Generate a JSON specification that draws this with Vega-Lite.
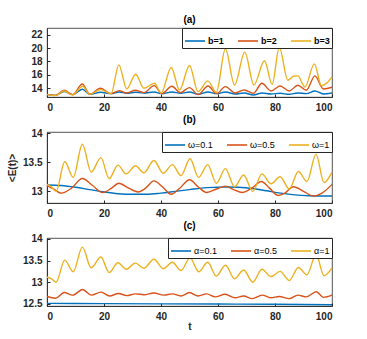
{
  "$schema": "https://vega.github.io/schema/vega-lite/v6.json",
  "padding": {"left": 7, "top": 14, "right": 5, "bottom": 5},
  "config": {
    "font": "Liberation Sans",
    "view": {"stroke": "#262626", "strokeWidth": 0.8},
    "axis": {"domainColor": "#262626", "domainWidth": 0.8, "tickColor": "#262626", "labelColor": "#262626", "labelFontSize": 10, "labelFontWeight": "bold", "grid": false, "tickSize": -3, "labelPadding": 8, "titleFontSize": 10, "titleFontWeight": "bold", "titleColor": "#262626", "format": "~r"},
    "title": {"fontSize": 10, "fontWeight": "bold", "offset": 3, "color": "#000000"},
    "legend": {"orient": "top-right", "direction": "horizontal", "symbolType": "stroke", "symbolSize": 400, "symbolStrokeWidth": 1.6, "labelFontSize": 9, "labelColor": "#000000", "strokeColor": "#262626", "fillColor": "white", "padding": 2, "offset": 0, "columnSpacing": 0, "labelOffset": 2},
    "concat": {"spacing": 1}
  },
  "data": {"values": [
    {"p":"a","s":"b=1","t":0,"v":13.1},{"p":"a","s":"b=1","t":3,"v":12.95},{"p":"a","s":"b=1","t":6,"v":13.5},{"p":"a","s":"b=1","t":9,"v":13.05},{"p":"a","s":"b=1","t":12.4,"v":13.85},{"p":"a","s":"b=1","t":15,"v":13.1},{"p":"a","s":"b=1","t":18.8,"v":13.4},{"p":"a","s":"b=1","t":22.5,"v":13.2},{"p":"a","s":"b=1","t":25.3,"v":13.45},{"p":"a","s":"b=1","t":28,"v":13.25},{"p":"a","s":"b=1","t":31,"v":13.4},{"p":"a","s":"b=1","t":34,"v":13.3},{"p":"a","s":"b=1","t":37.6,"v":13.45},{"p":"a","s":"b=1","t":40.3,"v":13.2},{"p":"a","s":"b=1","t":43.8,"v":13.45},{"p":"a","s":"b=1","t":47,"v":13.25},{"p":"a","s":"b=1","t":50,"v":13.45},{"p":"a","s":"b=1","t":53,"v":13.1},{"p":"a","s":"b=1","t":56.5,"v":13.45},{"p":"a","s":"b=1","t":59.5,"v":13.2},{"p":"a","s":"b=1","t":62.6,"v":13.45},{"p":"a","s":"b=1","t":66,"v":13.15},{"p":"a","s":"b=1","t":69.2,"v":13.3},{"p":"a","s":"b=1","t":72.4,"v":13.0},{"p":"a","s":"b=1","t":75.4,"v":13.3},{"p":"a","s":"b=1","t":78.6,"v":13.15},{"p":"a","s":"b=1","t":81.8,"v":13.25},{"p":"a","s":"b=1","t":85,"v":13.1},{"p":"a","s":"b=1","t":88,"v":13.3},{"p":"a","s":"b=1","t":91,"v":13.2},{"p":"a","s":"b=1","t":94,"v":13.6},{"p":"a","s":"b=1","t":97,"v":13.15},{"p":"a","s":"b=1","t":100,"v":13.3},

    {"p":"a","s":"b=2","t":0,"v":13.1},{"p":"a","s":"b=2","t":3,"v":12.95},{"p":"a","s":"b=2","t":6,"v":13.7},{"p":"a","s":"b=2","t":9,"v":13.05},{"p":"a","s":"b=2","t":12.4,"v":14.65},{"p":"a","s":"b=2","t":15,"v":13.1},{"p":"a","s":"b=2","t":18.8,"v":14.0},{"p":"a","s":"b=2","t":22.5,"v":13.2},{"p":"a","s":"b=2","t":25.3,"v":13.65},{"p":"a","s":"b=2","t":28,"v":13.3},{"p":"a","s":"b=2","t":31,"v":13.7},{"p":"a","s":"b=2","t":34,"v":13.35},{"p":"a","s":"b=2","t":37.6,"v":14.4},{"p":"a","s":"b=2","t":40.3,"v":13.2},{"p":"a","s":"b=2","t":43.8,"v":14.3},{"p":"a","s":"b=2","t":46.8,"v":13.35},{"p":"a","s":"b=2","t":50,"v":14.1},{"p":"a","s":"b=2","t":53,"v":13.05},{"p":"a","s":"b=2","t":56.5,"v":14.35},{"p":"a","s":"b=2","t":59.5,"v":13.2},{"p":"a","s":"b=2","t":62.6,"v":14.25},{"p":"a","s":"b=2","t":66,"v":13.3},{"p":"a","s":"b=2","t":69.2,"v":13.75},{"p":"a","s":"b=2","t":72.4,"v":13.25},{"p":"a","s":"b=2","t":75.4,"v":14.75},{"p":"a","s":"b=2","t":78.6,"v":13.6},{"p":"a","s":"b=2","t":81.8,"v":14.35},{"p":"a","s":"b=2","t":85,"v":13.6},{"p":"a","s":"b=2","t":88,"v":14.45},{"p":"a","s":"b=2","t":91,"v":13.7},{"p":"a","s":"b=2","t":94,"v":15.85},{"p":"a","s":"b=2","t":97,"v":13.9},{"p":"a","s":"b=2","t":100,"v":14.15},

    {"p":"a","s":"b=3","t":0,"v":13.05},{"p":"a","s":"b=3","t":3,"v":12.9},{"p":"a","s":"b=3","t":6,"v":13.6},{"p":"a","s":"b=3","t":9,"v":13.0},{"p":"a","s":"b=3","t":12.5,"v":14.3},{"p":"a","s":"b=3","t":15,"v":13.1},{"p":"a","s":"b=3","t":18.8,"v":13.8},{"p":"a","s":"b=3","t":22.5,"v":13.2},{"p":"a","s":"b=3","t":25.2,"v":17.5},{"p":"a","s":"b=3","t":28,"v":13.9},{"p":"a","s":"b=3","t":31.1,"v":16.1},{"p":"a","s":"b=3","t":34,"v":14.0},{"p":"a","s":"b=3","t":37.7,"v":14.75},{"p":"a","s":"b=3","t":40,"v":13.25},{"p":"a","s":"b=3","t":43.6,"v":17.1},{"p":"a","s":"b=3","t":46.5,"v":13.75},{"p":"a","s":"b=3","t":50,"v":17.4},{"p":"a","s":"b=3","t":53,"v":13.5},{"p":"a","s":"b=3","t":56.4,"v":15.1},{"p":"a","s":"b=3","t":59.4,"v":13.4},{"p":"a","s":"b=3","t":62.6,"v":19.9},{"p":"a","s":"b=3","t":65.8,"v":14.5},{"p":"a","s":"b=3","t":69.4,"v":19.4},{"p":"a","s":"b=3","t":72.6,"v":14.5},{"p":"a","s":"b=3","t":76.3,"v":18.1},{"p":"a","s":"b=3","t":79,"v":14.6},{"p":"a","s":"b=3","t":81.5,"v":20.15},{"p":"a","s":"b=3","t":84.5,"v":15.2},{"p":"a","s":"b=3","t":86.5,"v":15.8},{"p":"a","s":"b=3","t":88,"v":15.85},{"p":"a","s":"b=3","t":90.5,"v":14.2},{"p":"a","s":"b=3","t":93.8,"v":17.65},{"p":"a","s":"b=3","t":96.3,"v":14.4},{"p":"a","s":"b=3","t":98.5,"v":14.9},{"p":"a","s":"b=3","t":100,"v":15.7},

    {"p":"b","s":"ω=0.1","t":0,"v":13.11},{"p":"b","s":"ω=0.1","t":5,"v":13.1},{"p":"b","s":"ω=0.1","t":10,"v":13.07},{"p":"b","s":"ω=0.1","t":15,"v":13.03},{"p":"b","s":"ω=0.1","t":20,"v":12.99},{"p":"b","s":"ω=0.1","t":25,"v":12.96},{"p":"b","s":"ω=0.1","t":30,"v":12.95},{"p":"b","s":"ω=0.1","t":35,"v":12.95},{"p":"b","s":"ω=0.1","t":40,"v":12.97},{"p":"b","s":"ω=0.1","t":45,"v":13.0},{"p":"b","s":"ω=0.1","t":50,"v":13.03},{"p":"b","s":"ω=0.1","t":55,"v":13.06},{"p":"b","s":"ω=0.1","t":60,"v":13.07},{"p":"b","s":"ω=0.1","t":63,"v":13.075},{"p":"b","s":"ω=0.1","t":67,"v":13.07},{"p":"b","s":"ω=0.1","t":72,"v":13.05},{"p":"b","s":"ω=0.1","t":77,"v":13.01},{"p":"b","s":"ω=0.1","t":82,"v":12.97},{"p":"b","s":"ω=0.1","t":87,"v":12.94},{"p":"b","s":"ω=0.1","t":92,"v":12.925},{"p":"b","s":"ω=0.1","t":96,"v":12.92},{"p":"b","s":"ω=0.1","t":100,"v":12.92},

    {"p":"b","s":"ω=0.5","t":0,"v":13.1},{"p":"b","s":"ω=0.5","t":2,"v":13.05},{"p":"b","s":"ω=0.5","t":5,"v":12.97},{"p":"b","s":"ω=0.5","t":8.5,"v":13.05},{"p":"b","s":"ω=0.5","t":12.4,"v":13.22},{"p":"b","s":"ω=0.5","t":16,"v":13.1},{"p":"b","s":"ω=0.5","t":19.5,"v":12.98},{"p":"b","s":"ω=0.5","t":22.5,"v":13.05},{"p":"b","s":"ω=0.5","t":25.2,"v":13.14},{"p":"b","s":"ω=0.5","t":28.5,"v":13.06},{"p":"b","s":"ω=0.5","t":32,"v":12.99},{"p":"b","s":"ω=0.5","t":34.5,"v":13.05},{"p":"b","s":"ω=0.5","t":37.5,"v":13.18},{"p":"b","s":"ω=0.5","t":40.5,"v":13.08},{"p":"b","s":"ω=0.5","t":43.5,"v":12.95},{"p":"b","s":"ω=0.5","t":46.5,"v":13.05},{"p":"b","s":"ω=0.5","t":50,"v":13.2},{"p":"b","s":"ω=0.5","t":53,"v":13.08},{"p":"b","s":"ω=0.5","t":56,"v":12.98},{"p":"b","s":"ω=0.5","t":59.5,"v":13.04},{"p":"b","s":"ω=0.5","t":62.6,"v":13.09},{"p":"b","s":"ω=0.5","t":65.5,"v":13.03},{"p":"b","s":"ω=0.5","t":68.5,"v":12.98},{"p":"b","s":"ω=0.5","t":72,"v":13.06},{"p":"b","s":"ω=0.5","t":75.2,"v":13.17},{"p":"b","s":"ω=0.5","t":78,"v":13.06},{"p":"b","s":"ω=0.5","t":81,"v":12.93},{"p":"b","s":"ω=0.5","t":83.5,"v":12.97},{"p":"b","s":"ω=0.5","t":86.5,"v":13.08},{"p":"b","s":"ω=0.5","t":90,"v":13.0},{"p":"b","s":"ω=0.5","t":93.5,"v":12.92},{"p":"b","s":"ω=0.5","t":96.5,"v":12.97},{"p":"b","s":"ω=0.5","t":100,"v":13.12},

    {"p":"b","s":"ω=1","t":0,"v":13.12},{"p":"b","s":"ω=1","t":1.5,"v":13.08},{"p":"b","s":"ω=1","t":3.2,"v":13.0},{"p":"b","s":"ω=1","t":6.2,"v":13.51},{"p":"b","s":"ω=1","t":9.2,"v":13.24},{"p":"b","s":"ω=1","t":12.4,"v":13.81},{"p":"b","s":"ω=1","t":15.5,"v":13.33},{"p":"b","s":"ω=1","t":18.9,"v":13.58},{"p":"b","s":"ω=1","t":21.8,"v":13.22},{"p":"b","s":"ω=1","t":24.9,"v":13.45},{"p":"b","s":"ω=1","t":27.8,"v":13.3},{"p":"b","s":"ω=1","t":31,"v":13.44},{"p":"b","s":"ω=1","t":34,"v":13.32},{"p":"b","s":"ω=1","t":37.5,"v":13.53},{"p":"b","s":"ω=1","t":40.8,"v":13.31},{"p":"b","s":"ω=1","t":44,"v":13.46},{"p":"b","s":"ω=1","t":47,"v":13.27},{"p":"b","s":"ω=1","t":50.2,"v":13.56},{"p":"b","s":"ω=1","t":53.2,"v":13.24},{"p":"b","s":"ω=1","t":56.4,"v":13.46},{"p":"b","s":"ω=1","t":59.4,"v":13.14},{"p":"b","s":"ω=1","t":62.6,"v":13.39},{"p":"b","s":"ω=1","t":65.8,"v":13.08},{"p":"b","s":"ω=1","t":69,"v":13.28},{"p":"b","s":"ω=1","t":72.2,"v":13.0},{"p":"b","s":"ω=1","t":75.4,"v":13.3},{"p":"b","s":"ω=1","t":78.6,"v":13.13},{"p":"b","s":"ω=1","t":81.8,"v":13.25},{"p":"b","s":"ω=1","t":85,"v":13.04},{"p":"b","s":"ω=1","t":88.2,"v":13.34},{"p":"b","s":"ω=1","t":91.2,"v":13.17},{"p":"b","s":"ω=1","t":94.4,"v":13.64},{"p":"b","s":"ω=1","t":97.2,"v":13.15},{"p":"b","s":"ω=1","t":100,"v":13.33},

    {"p":"c","s":"α=0.1","t":0,"v":12.51},{"p":"c","s":"α=0.1","t":20,"v":12.505},{"p":"c","s":"α=0.1","t":40,"v":12.5},{"p":"c","s":"α=0.1","t":60,"v":12.495},{"p":"c","s":"α=0.1","t":80,"v":12.49},{"p":"c","s":"α=0.1","t":100,"v":12.48},

    {"p":"c","s":"α=0.5","t":0,"v":12.67},{"p":"c","s":"α=0.5","t":3,"v":12.63},{"p":"c","s":"α=0.5","t":6,"v":12.76},{"p":"c","s":"α=0.5","t":9,"v":12.7},{"p":"c","s":"α=0.5","t":12.5,"v":12.83},{"p":"c","s":"α=0.5","t":15.5,"v":12.7},{"p":"c","s":"α=0.5","t":19,"v":12.77},{"p":"c","s":"α=0.5","t":22,"v":12.68},{"p":"c","s":"α=0.5","t":25,"v":12.74},{"p":"c","s":"α=0.5","t":28,"v":12.69},{"p":"c","s":"α=0.5","t":31,"v":12.73},{"p":"c","s":"α=0.5","t":34,"v":12.71},{"p":"c","s":"α=0.5","t":37.5,"v":12.75},{"p":"c","s":"α=0.5","t":41,"v":12.7},{"p":"c","s":"α=0.5","t":44,"v":12.73},{"p":"c","s":"α=0.5","t":47,"v":12.68},{"p":"c","s":"α=0.5","t":50,"v":12.76},{"p":"c","s":"α=0.5","t":53,"v":12.68},{"p":"c","s":"α=0.5","t":56,"v":12.73},{"p":"c","s":"α=0.5","t":59,"v":12.66},{"p":"c","s":"α=0.5","t":62.5,"v":12.72},{"p":"c","s":"α=0.5","t":66,"v":12.64},{"p":"c","s":"α=0.5","t":69,"v":12.68},{"p":"c","s":"α=0.5","t":72,"v":12.62},{"p":"c","s":"α=0.5","t":75.5,"v":12.7},{"p":"c","s":"α=0.5","t":78.5,"v":12.64},{"p":"c","s":"α=0.5","t":81.5,"v":12.67},{"p":"c","s":"α=0.5","t":85,"v":12.62},{"p":"c","s":"α=0.5","t":88,"v":12.7},{"p":"c","s":"α=0.5","t":91,"v":12.66},{"p":"c","s":"α=0.5","t":94.5,"v":12.78},{"p":"c","s":"α=0.5","t":97,"v":12.65},{"p":"c","s":"α=0.5","t":100,"v":12.7},

    {"p":"c","s":"α=1","t":0,"v":13.12},{"p":"c","s":"α=1","t":1.5,"v":13.08},{"p":"c","s":"α=1","t":3.2,"v":13.0},{"p":"c","s":"α=1","t":6.2,"v":13.51},{"p":"c","s":"α=1","t":9.2,"v":13.24},{"p":"c","s":"α=1","t":12.4,"v":13.81},{"p":"c","s":"α=1","t":15.5,"v":13.33},{"p":"c","s":"α=1","t":18.9,"v":13.58},{"p":"c","s":"α=1","t":21.8,"v":13.22},{"p":"c","s":"α=1","t":24.9,"v":13.45},{"p":"c","s":"α=1","t":27.8,"v":13.3},{"p":"c","s":"α=1","t":31,"v":13.44},{"p":"c","s":"α=1","t":34,"v":13.32},{"p":"c","s":"α=1","t":37.5,"v":13.53},{"p":"c","s":"α=1","t":40.8,"v":13.31},{"p":"c","s":"α=1","t":44,"v":13.46},{"p":"c","s":"α=1","t":47,"v":13.27},{"p":"c","s":"α=1","t":50.2,"v":13.56},{"p":"c","s":"α=1","t":53.2,"v":13.24},{"p":"c","s":"α=1","t":56.4,"v":13.46},{"p":"c","s":"α=1","t":59.4,"v":13.14},{"p":"c","s":"α=1","t":62.6,"v":13.39},{"p":"c","s":"α=1","t":65.8,"v":13.08},{"p":"c","s":"α=1","t":69,"v":13.28},{"p":"c","s":"α=1","t":72.2,"v":13.0},{"p":"c","s":"α=1","t":75.4,"v":13.3},{"p":"c","s":"α=1","t":78.6,"v":13.13},{"p":"c","s":"α=1","t":81.8,"v":13.25},{"p":"c","s":"α=1","t":85,"v":13.04},{"p":"c","s":"α=1","t":88.2,"v":13.34},{"p":"c","s":"α=1","t":91.2,"v":13.17},{"p":"c","s":"α=1","t":94.4,"v":13.64},{"p":"c","s":"α=1","t":97.2,"v":13.15},{"p":"c","s":"α=1","t":100,"v":13.33}
  ]},
  "resolve": {"scale": {"color": "independent", "y": "independent"}, "legend": {"color": "independent"}},
  "vconcat": [
    {
      "title": "(a)",
      "width": 285, "height": 69,
      "transform": [{"filter": "datum.p === 'a'"}],
      "mark": {"type": "line", "interpolate": "monotone", "strokeWidth": 1.4},
      "encoding": {
        "x": {"field": "t", "type": "quantitative", "scale": {"domain": [0, 100], "nice": false}, "axis": {"values": [0, 20, 40, 60, 80, 100], "title": null}},
        "y": {"field": "v", "type": "quantitative", "scale": {"domain": [12.7, 23], "zero": false, "nice": false}, "axis": {"values": [14, 16, 18, 20, 22], "title": null}},
        "color": {"field": "s", "type": "nominal", "scale": {"domain": ["b=1", "b=2", "b=3"], "range": ["#0072BD", "#D95319", "#EDB120"]}, "legend": {"title": null, "labelFontWeight": "bold"}}
      }
    },
    {
      "title": "(b)",
      "width": 285, "height": 71,
      "transform": [{"filter": "datum.p === 'b'"}],
      "mark": {"type": "line", "interpolate": "monotone", "strokeWidth": 1.4},
      "encoding": {
        "x": {"field": "t", "type": "quantitative", "scale": {"domain": [0, 100], "nice": false}, "axis": {"values": [0, 20, 40, 60, 80, 100], "title": null}},
        "y": {"field": "v", "type": "quantitative", "scale": {"domain": [12.8, 14.02], "zero": false, "nice": false}, "axis": {"values": [13, 13.5, 14], "title": "<E(t)>", "titlePadding": 5}},
        "color": {"field": "s", "type": "nominal", "scale": {"domain": ["ω=0.1", "ω=0.5", "ω=1"], "range": ["#0072BD", "#D95319", "#EDB120"]}, "legend": {"title": null, "labelFontWeight": "normal"}}
      }
    },
    {
      "title": "(c)",
      "width": 285, "height": 68,
      "transform": [{"filter": "datum.p === 'c'"}],
      "mark": {"type": "line", "interpolate": "monotone", "strokeWidth": 1.4},
      "encoding": {
        "x": {"field": "t", "type": "quantitative", "scale": {"domain": [0, 100], "nice": false}, "axis": {"values": [0, 20, 40, 60, 80, 100], "title": "t", "titlePadding": 0}},
        "y": {"field": "v", "type": "quantitative", "scale": {"domain": [12.45, 14.02], "zero": false, "nice": false}, "axis": {"values": [12.5, 13, 13.5, 14], "title": null}},
        "color": {"field": "s", "type": "nominal", "scale": {"domain": ["α=0.1", "α=0.5", "α=1"], "range": ["#0072BD", "#D95319", "#EDB120"]}, "legend": {"title": null, "labelFontWeight": "normal"}}
      }
    }
  ]
}
